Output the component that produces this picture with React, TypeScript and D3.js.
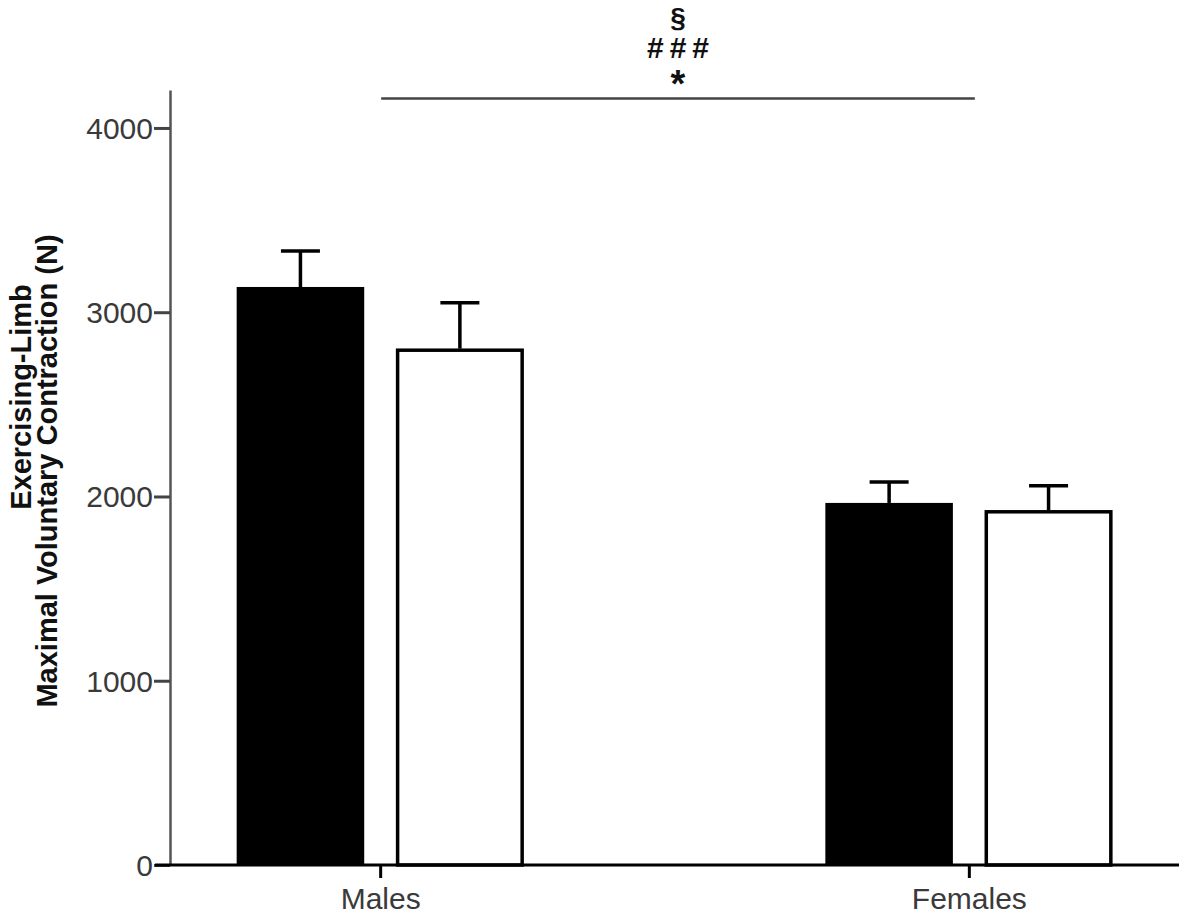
import React, { useEffect, useRef } from 'react';
import * as d3 from 'd3';

const categories = ['Males', 'Females'];
const series = ['filled', 'open'];
const filledMeans = [3137, 1965];
const filledErrors = [195, 114];
const openMeans = [2802, 1925];
const openErrors = [250, 133];
const yTicks = [0, 1000, 2000, 3000, 4000];
const yMax = 4206;
const sigLineValue = 4160;
const sigMarks = ['§', '###', '*'];
const yLabelLines = ['Exercising-Limb', 'Maximal Voluntary Contraction (N)'];

export default function App() {
  const ref = useRef<SVGSVGElement>(null);

  useEffect(() => {
    const svg = d3.select(ref.current);
    svg.selectAll('*').remove();

    const font = 'Arial, "Liberation Sans", sans-serif';

    const x0 = d3.scalePoint<string>().domain(categories).range([170, 1179]).padding(0.357);
    const x1 = d3.scaleBand<string>().domain(series).range([-143.5, 143.5]).paddingInner(0.2);
    const y = d3.scaleLinear().domain([0, yMax]).range([865, 90]);

    const rows = categories.flatMap((c, i) => [
      { c, s: 'filled', mean: filledMeans[i], err: filledErrors[i] },
      { c, s: 'open', mean: openMeans[i], err: openErrors[i] },
    ]);

    // error bars (drawn first so the bar covers the stem base)
    const eb = svg.append('g').attr('stroke', '#000').attr('stroke-width', 3.5);
    rows.forEach(d => {
      const cx = (x0(d.c) as number) + (x1(d.s) as number) + x1.bandwidth() / 2;
      eb.append('line')
        .attr('x1', cx).attr('x2', cx)
        .attr('y1', y(d.mean)).attr('y2', y(d.mean + d.err));
      eb.append('line')
        .attr('x1', cx - 19.5).attr('x2', cx + 19.5)
        .attr('y1', y(d.mean + d.err)).attr('y2', y(d.mean + d.err));
    });

    // bars
    svg.append('g')
      .selectAll('rect')
      .data(rows)
      .enter()
      .append('rect')
      .attr('x', d => (x0(d.c) as number) + (x1(d.s) as number) + (d.s === 'open' ? 1.5 : 0))
      .attr('y', d => y(d.mean) + (d.s === 'open' ? 1.5 : 0))
      .attr('width', d => x1.bandwidth() - (d.s === 'open' ? 3 : 0))
      .attr('height', d => y(0) - y(d.mean) - (d.s === 'open' ? 1.5 : 0))
      .attr('fill', d => (d.s === 'filled' ? '#000' : '#fff'))
      .attr('stroke', d => (d.s === 'open' ? '#000' : 'none'))
      .attr('stroke-width', 3.5);

    // y-axis
    const yAxis = svg.append('g')
      .attr('transform', 'translate(170,0)')
      .call(d3.axisLeft(y).tickValues(yTicks).tickSize(16).tickSizeOuter(0).tickPadding(1).tickFormat(d3.format('d')));
    yAxis.select('.domain').attr('stroke', '#555').attr('stroke-width', 2.5);
    yAxis.selectAll('.tick line').attr('stroke', '#444').attr('stroke-width', 3);
    yAxis.selectAll('.tick text')
      .attr('font-family', font)
      .attr('font-size', 30)
      .attr('fill', '#3a3a3a')
      .attr('dy', '0.35em');

    // x-axis
    const xAxis = svg.append('g')
      .attr('transform', 'translate(0,' + y(0) + ')')
      .call(d3.axisBottom(x0).tickSize(13).tickSizeOuter(0).tickPadding(10));
    xAxis.select('.domain').attr('stroke', '#000').attr('stroke-width', 3)
      .attr('d', 'M155,0H1179');
    xAxis.selectAll('.tick line').attr('stroke', '#000').attr('stroke-width', 3);
    xAxis.selectAll('.tick text')
      .attr('font-family', font)
      .attr('font-size', 30)
      .attr('fill', '#3a3a3a')
      .attr('dy', '0.71em');

    // y-axis title
    yLabelLines.forEach((t, i) => {
      svg.append('text')
        .attr('transform', 'translate(' + (i === 0 ? 31 : 57) + ',' + (i === 0 ? 397 : 471) + ') rotate(-90)')
        .attr('text-anchor', 'middle')
        .attr('font-family', font)
        .attr('font-weight', 'bold')
        .attr('font-size', 29)
        .attr('fill', '#111')
        .text(t);
    });

    // significance bracket
    const sx1 = (x0('Males') as number) + 1;
    const sx2 = (x0('Females') as number) + 6;
    svg.append('line')
      .attr('x1', sx1).attr('x2', sx2)
      .attr('y1', y(sigLineValue)).attr('y2', y(sigLineValue))
      .attr('stroke', '#444').attr('stroke-width', 2.5);
    const midX = (sx1 + sx2) / 2;
    const markY = [27, 58, 97];
    const markSize = [28, 30, 38];
    sigMarks.forEach((m, i) => {
      svg.append('text')
        .attr('x', midX + (i === 1 ? 3 : 0))
        .attr('y', markY[i])
        .attr('text-anchor', 'middle')
        .attr('font-family', font)
        .attr('font-weight', 'bold')
        .attr('font-size', markSize[i])
        .attr('letter-spacing', i === 1 ? 6 : 0)
        .attr('fill', '#111')
        .text(m);
    });
  }, []);

  return (
    <svg
      ref={ref}
      width={1181}
      height={918}
      style={{ position: 'absolute', left: 0, top: 0, background: '#fff' }}
    />
  );
}
